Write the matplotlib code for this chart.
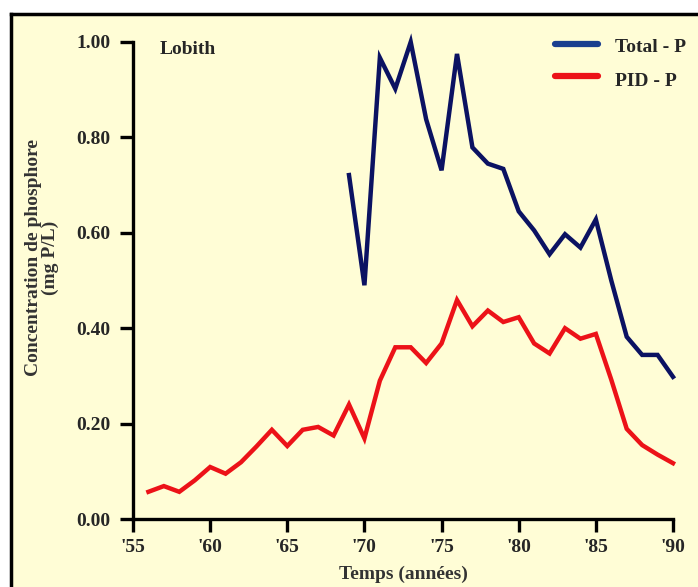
import numpy as np
import matplotlib.pyplot as plt
from matplotlib.lines import Line2D

# données (Lobith)
years_pid = list(range(1956, 1991))
pid_p = [0.057, 0.069, 0.057, 0.081, 0.109, 0.095, 0.119, 0.152, 0.187, 0.153,
         0.187, 0.193, 0.175, 0.240, 0.169, 0.290, 0.360, 0.360, 0.327, 0.368,
         0.459, 0.404, 0.437, 0.413, 0.423, 0.368, 0.347, 0.400, 0.378, 0.388,
         0.292, 0.189, 0.155, 0.135, 0.117]

years_tot = list(range(1969, 1991))
total_p = [0.721, 0.490, 0.967, 0.902, 1.000, 0.838, 0.731, 0.975, 0.779, 0.745,
           0.734, 0.645, 0.605, 0.555, 0.597, 0.569, 0.628, 0.500, 0.382, 0.344,
           0.344, 0.298]

xticks = [1955, 1960, 1965, 1970, 1975, 1980, 1985, 1990]
xtick_labels = ["'55", "'60", "'65", "'70", "'75", "'80", "'85", "'90"]
yticks = [0.0, 0.2, 0.4, 0.6, 0.8, 1.0]

plt.rcParams['font.family'] = ['Liberation Serif', 'DejaVu Serif']
plt.rcParams['font.weight'] = 'bold'

cream = '#fffdd6'
navy = '#0b1262'
red = '#ec1218'
txt = '#262626'

fig = plt.figure(figsize=(6.98, 5.87), dpi=100)
fig.patch.set_facecolor('white')

# fond crème + cadre noir (coupé à droite et en bas)
fig.patches.append(plt.Rectangle((11 / 698, 0), 1, 1 - 14 / 587, transform=fig.transFigure,
                                 facecolor=cream, edgecolor='none', zorder=-5))
fig.add_artist(Line2D([11 / 698, 11 / 698], [0, 1 - 14 / 587], color='black', lw=2.5))
fig.add_artist(Line2D([11 / 698, 1], [1 - 14 / 587, 1 - 14 / 587], color='black', lw=2.5))

ax = fig.add_axes([133 / 698, 1 - 519 / 587, 540 / 698, 477 / 587])
ax.set_facecolor('none')
ax.set_zorder(5)

ax.plot(years_tot, total_p, color=navy, lw=3.2, solid_joinstyle='miter', clip_on=False)
ax.plot(years_pid, pid_p, color=red, lw=3.2, solid_joinstyle='miter', clip_on=False)

ax.set_xlim(1955, 1990)
ax.set_ylim(0, 1.0)
ax.set_xticks(xticks)
ax.set_xticklabels(xtick_labels)
ax.set_yticks(yticks)
ax.set_yticklabels([f"{v:.2f}" for v in yticks])

for s in ['top', 'right']:
    ax.spines[s].set_visible(False)
for s in ['left', 'bottom']:
    ax.spines[s].set_linewidth(2.4)
    ax.spines[s].set_capstyle('projecting')

ax.tick_params(axis='y', length=9.5, width=2.4, pad=7, labelsize=14, colors='black',
               labelcolor=txt)
ax.tick_params(axis='x', length=9.5, width=2.4, pad=5, labelsize=14, colors='black',
               labelcolor=txt)
for lab in ax.get_xticklabels() + ax.get_yticklabels():
    lab.set_fontweight('bold')

ax.text((160 - 133) / 540, 0.985, 'Lobith', transform=ax.transAxes, fontsize=14,
        fontweight='bold', color=txt, va='center', ha='left')

# légende dessinée à la main
fig.add_artist(Line2D([555 / 698, 598 / 698], [1 - 44 / 587] * 2, color='#1a3f8f', lw=4.5,
                      solid_capstyle='round'))
fig.add_artist(Line2D([555 / 698, 598 / 698], [1 - 76 / 587] * 2, color=red, lw=4.5,
                      solid_capstyle='round'))
fig.text(615 / 698, 1 - 48 / 587, 'Total - P', fontsize=14, fontweight='bold',
         color=txt, va='center')
fig.text(615 / 698, 1 - 81 / 587, 'PID - P', fontsize=14, fontweight='bold',
         color=txt, va='center')

fig.text(42 / 698, 1 - 258 / 587, 'Concentration de phosphore\n(mg P/L)', rotation=90,
         fontsize=14, fontweight='bold', color='#333333', ha='center', va='center',
         linespacing=1.0)
fig.text(403 / 698, 1 - 574 / 587, 'Temps (années)', fontsize=14, fontweight='bold',
         color='#333333', ha='center', va='center')

fig.savefig('out.png', dpi=100, facecolor=fig.get_facecolor())
